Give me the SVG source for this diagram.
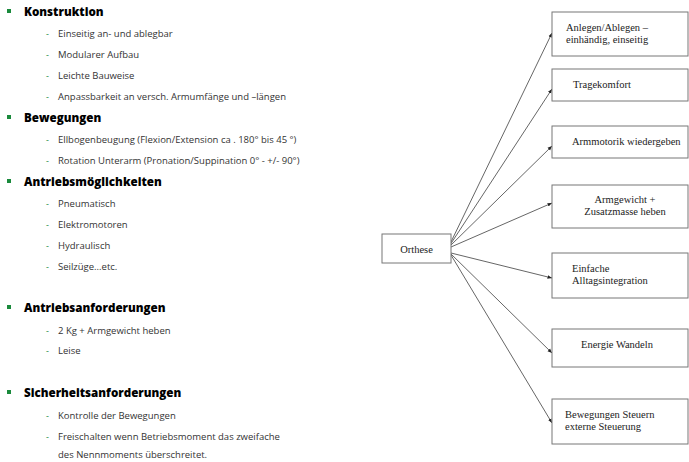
<svg xmlns="http://www.w3.org/2000/svg" width="689" height="462" viewBox="0 0 689 462">
<defs>
<style>
.h{font-family:"Open Sans","Liberation Sans",sans-serif;font-weight:800;font-size:11.6px;fill:#000}
.i{font-family:"Open Sans","Liberation Sans",sans-serif;font-size:9.5px;fill:#333}
.b{fill:#1a8a3c}
.d{fill:#1a8a3c;font-family:"Open Sans","Liberation Sans",sans-serif;font-size:9px}
.box{fill:#fff;stroke:#777;stroke-width:1}
.t{font-family:"Liberation Serif",serif;font-size:10.5px;fill:#222}
.c{stroke:#555;stroke-width:0.9;fill:none;marker-end:url(#ah)}
</style>
<marker id="ah" viewBox="0 0 10 10" refX="10" refY="5" markerWidth="5" markerHeight="5" orient="auto"><path d="M0,1 L10,5 L0,9 z" fill="#222"/></marker>
</defs>
<rect width="689" height="462" fill="#fff"/>
<g id="list">
<rect class="b" x="7" y="9" width="4" height="4"/><text class="h" x="24" y="16">Konstruktion</text>
<text class="d" x="46" y="37">-</text><text class="i" x="58" y="37">Einseitig an- und ablegbar</text>
<text class="d" x="46" y="58">-</text><text class="i" x="58" y="58">Modularer Aufbau</text>
<text class="d" x="46" y="79">-</text><text class="i" x="58" y="79">Leichte Bauweise</text>
<text class="d" x="46" y="100">-</text><text class="i" x="58" y="100">Anpassbarkeit an versch. Armumfänge und –längen</text>
<rect class="b" x="7" y="115" width="4" height="4"/><text class="h" x="24" y="122">Bewegungen</text>
<text class="d" x="46" y="143">-</text><text class="i" x="58" y="143">Ellbogenbeugung (Flexion/Extension ca . 180° bis 45 °)</text>
<text class="d" x="46" y="164">-</text><text class="i" x="58" y="164">Rotation Unterarm (Pronation/Suppination 0° - +/- 90°)</text>
<rect class="b" x="7" y="179" width="4" height="4"/><text class="h" x="24" y="186">Antriebsmöglichkeiten</text>
<text class="d" x="46" y="207">-</text><text class="i" x="58" y="207">Pneumatisch</text>
<text class="d" x="46" y="228">-</text><text class="i" x="58" y="228">Elektromotoren</text>
<text class="d" x="46" y="249">-</text><text class="i" x="58" y="249">Hydraulisch</text>
<text class="d" x="46" y="270">-</text><text class="i" x="58" y="270">Seilzüge...etc.</text>
<rect class="b" x="7" y="305" width="4" height="4"/><text class="h" x="24" y="312">Antriebsanforderungen</text>
<text class="d" x="46" y="334">-</text><text class="i" x="58" y="334">2 Kg + Armgewicht heben</text>
<text class="d" x="46" y="354">-</text><text class="i" x="58" y="354">Leise</text>
<rect class="b" x="7" y="390" width="4" height="4"/><text class="h" x="24" y="397">Sicherheitsanforderungen</text>
<text class="d" x="46" y="419">-</text><text class="i" x="58" y="419">Kontrolle der Bewegungen</text>
<text class="d" x="46" y="440">-</text><text class="i" x="58" y="440">Freischalten wenn Betriebsmoment  das zweifache</text>
<text class="i" x="58" y="458">des Nennmoments überschreitet.</text>
</g>
<g id="connectors">
<line class="c" x1="450" y1="244" x2="552" y2="33"/>
<line class="c" x1="450" y1="245" x2="552" y2="89"/>
<line class="c" x1="450" y1="246" x2="552" y2="146"/>
<line class="c" x1="451" y1="247" x2="552" y2="203"/>
<line class="c" x1="451" y1="253" x2="552" y2="278"/>
<line class="c" x1="451" y1="254" x2="552" y2="353"/>
<line class="c" x1="451" y1="255" x2="552" y2="423"/>
</g>
<g id="orthese"><rect class="box" x="382" y="234" width="69" height="29"/><text class="t" x="416.5" y="253" text-anchor="middle">Orthese</text></g>
<g id="n1"><rect class="box" x="552" y="12" width="136" height="44"/><text class="t" x="566" y="31">Anlegen/Ablegen –</text><text class="t" x="566" y="43">einhändig, einseitig</text></g>
<g id="n2"><rect class="box" x="552" y="69" width="136" height="32"/><text class="t" x="573" y="88">Tragekomfort</text></g>
<g id="n3"><rect class="box" x="552" y="126" width="136" height="32"/><text class="t" x="572" y="145">Armmotorik wiedergeben</text></g>
<g id="n4"><rect class="box" x="552" y="185" width="136" height="43"/><text class="t" x="625" y="203" text-anchor="middle">Armgewicht +</text><text class="t" x="625" y="215" text-anchor="middle">Zusatzmasse heben</text></g>
<g id="n5"><rect class="box" x="552" y="253" width="136" height="45"/><text class="t" x="572" y="272">Einfache</text><text class="t" x="572" y="284">Alltagsintegration</text></g>
<g id="n6"><rect class="box" x="552" y="329" width="136" height="38"/><text class="t" x="581" y="348">Energie Wandeln</text></g>
<g id="n7"><rect class="box" x="552" y="399" width="136" height="45"/><text class="t" x="565" y="418">Bewegungen Steuern</text><text class="t" x="565" y="430">externe Steuerung</text></g>
</svg>
